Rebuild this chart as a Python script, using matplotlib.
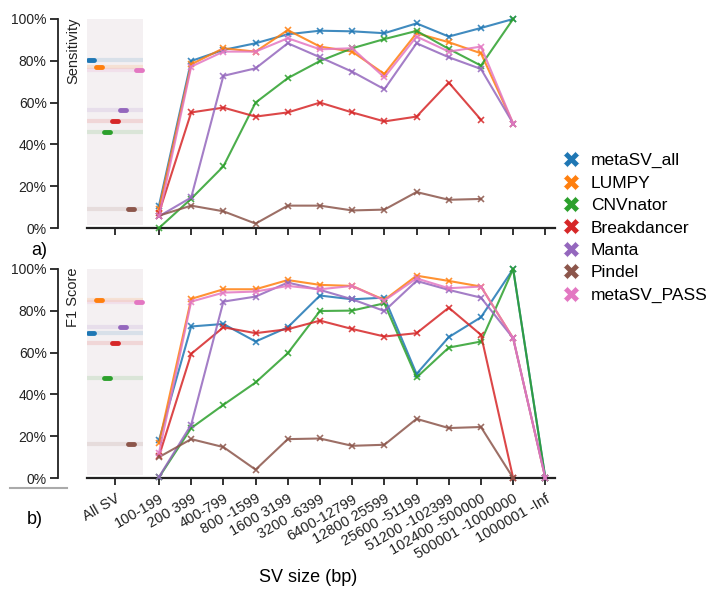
import numpy as np
import matplotlib
matplotlib.use("Agg")
import matplotlib.pyplot as plt
from matplotlib.lines import Line2D

plt.rcParams['font.family'] = ['Liberation Sans', 'DejaVu Sans']

nan = np.nan

# categories (first one is the "All SV" summary column)
size_cats = ["100-199", "200 399", "400-799", "800 -1599", "1600 3199", "3200 -6399",
             "6400-12799", "12800 25599", "25600 -51199", "51200 -102399",
             "102400 -500000", "500001 -1000000", "1000001 -Inf"]
all_label = "All SV"

names = ["metaSV_all", "LUMPY", "CNVnator", "Breakdancer", "Manta", "Pindel", "metaSV_PASS"]
colors = ["#1f77b4", "#ff7f0e", "#2ca02c", "#d62728", "#9467bd", "#8c564b", "#e377c2"]

# sensitivity (%), All SV column
sens_allsv = [80.3, 76.8, 45.7, 51.1, 56.5, 8.9, 75.5]
# sensitivity (%) per size bin
sens_metasv_all = [10.7, 79.9, 85.2, 88.4, 92.7, 94.4, 94.1, 93.2, 97.9, 91.6, 95.7, 100, nan]
sens_lumpy = [9.1, 78.3, 86.0, 84.4, 94.7, 86.8, 84.4, 73.7, 93.2, 88.9, 83.6, 50, nan]
sens_cnvnator = [0, 14.0, 29.5, 60.0, 71.7, 79.9, 86.0, 90.4, 94.3, 85.7, 77.7, 100, nan]
sens_breakdancer = [7.2, 55.3, 57.6, 53.3, 55.3, 60.0, 55.3, 51.0, 53.3, 69.6, 51.8, nan, nan]
sens_manta = [5.6, 14.6, 72.8, 76.4, 88.4, 81.7, 74.8, 66.4, 88.4, 81.7, 76.1, 50, nan]
sens_pindel = [5.9, 10.7, 8.0, 2.1, 10.7, 10.7, 8.4, 8.8, 17.2, 13.5, 13.9, nan, nan]
sens_metasv_pass = [5.6, 77.2, 84.4, 84.4, 90.8, 85.5, 86.0, 72.1, 91.6, 84.4, 86.8, 50, nan]

# F1 score (%), All SV column
f1_allsv = [69.6, 85.2, 47.8, 64.5, 72.3, 16.2, 84.1]
# F1 score (%) per size bin
f1_metasv_all = [18.0, 72.5, 73.7, 65.3, 72.1, 87.3, 85.5, 86.3, 49.8, 67.4, 76.9, 100, 0]
f1_lumpy = [16.7, 85.7, 90.3, 90.3, 94.7, 92.4, 91.9, 85.2, 96.8, 94.3, 91.6, 66.9, 0]
f1_cnvnator = [0.3, 23.9, 35.0, 45.7, 59.7, 79.9, 80.1, 83.6, 48.1, 62.4, 65.3, 100, 0]
f1_breakdancer = [10.4, 59.4, 72.1, 69.3, 71.2, 75.3, 71.3, 67.7, 69.3, 81.5, 68.5, 0, nan]
f1_manta = [0.5, 25.5, 84.4, 86.8, 93.5, 90.0, 85.5, 79.9, 94.3, 90.0, 86.3, 66.9, 0]
f1_pindel = [10.0, 18.6, 14.8, 4.0, 18.6, 18.9, 15.4, 15.9, 28.3, 23.9, 24.4, 0, nan]
f1_metasv_pass = [12.0, 84.4, 88.7, 89.2, 91.9, 90.3, 91.9, 84.9, 95.5, 90.8, 91.6, 66.9, 0]

sens_series = [sens_metasv_all, sens_lumpy, sens_cnvnator, sens_breakdancer,
               sens_manta, sens_pindel, sens_metasv_pass]
f1_series = [f1_metasv_all, f1_lumpy, f1_cnvnator, f1_breakdancer,
             f1_manta, f1_pindel, f1_metasv_pass]

W, H = 714, 592
fig = plt.figure(figsize=(W / 100, H / 100), dpi=100)

x = np.arange(len(size_cats))
x_all = -1.366
xlim = (-2.236, 12.30)
band = (-2.236, -0.497)


def panel(ax, allsv, series, ylabel, ylab_top, show_labels):
    ax.set_xlim(*xlim)
    ax.set_ylim(0, 100)
    for s in ["top", "right"]:
        ax.spines[s].set_visible(False)
    ax.spines["left"].set_position(("outward", 21))
    ax.spines["left"].set_linewidth(1.3)
    ax.spines["left"].set_color("#222222")
    ax.spines["bottom"].set_linewidth(1.6)
    ax.spines["bottom"].set_color("#222222")
    ax.set_yticks([0, 20, 40, 60, 80, 100])
    ax.set_yticklabels([f"{v}%" for v in [0, 20, 40, 60, 80, 100]])
    ax.tick_params(axis="y", direction="out", length=6, width=1.3, pad=2,
                   labelsize=10, colors="#222222")
    ax.tick_params(axis="x", direction="out", length=5, width=1.3, pad=5,
                   labelsize=10.5, colors="#222222")
    ax.set_xticks([x_all] + list(x))
    if show_labels:
        ax.set_xticklabels([all_label] + size_cats, rotation=30, ha="right",
                           rotation_mode="anchor")
    else:
        ax.set_xticklabels([])

    # All SV summary column
    ax.axvspan(band[0], band[1], ymin=0.015, ymax=1.0, color="#f4f0f2", zorder=0, lw=0)
    for i, (v, c) in enumerate(zip(allsv, colors)):
        off = (i - 3) * 0.248
        ax.plot(band, [v, v], color=c, alpha=0.13, lw=3, solid_capstyle="butt", zorder=1)
        ax.plot([x_all + off - 0.08, x_all + off + 0.08], [v, v], color=c, lw=3.5,
                solid_capstyle="round", zorder=2)

    for vals, c in zip(series, colors):
        ax.plot(x, vals, color=c, lw=1.5, alpha=0.85, marker="x", ms=5, mew=1.2,
                clip_on=False, zorder=3)

    fig.text(73 / W, 1 - ylab_top / H, ylabel, rotation=90, ha="center", va="top",
             fontsize=10.5, color="#222222")


ax1 = fig.add_axes([87 / W, 1 - 228 / H, 468 / W, 209 / H])
ax2 = fig.add_axes([87 / W, 1 - 478 / H, 468 / W, 209 / H])
panel(ax1, sens_allsv, sens_series, "Sensitivity", 18, False)
panel(ax2, f1_allsv, f1_series, "F1 Score", 268, True)

fig.text(39 / W, 1 - 250 / H, "a)", ha="center", va="center", fontsize=13)
fig.text(35 / W, 1 - 520 / H, "b)", ha="center", va="center", fontsize=13)
fig.text(308 / W, 1 - 577 / H, "SV size (bp)", ha="center", va="center", fontsize=13)
fig.add_artist(Line2D([10 / W, 67 / W], [1 - 488 / H] * 2, color="#aaaaaa", lw=1.5))

handles = [Line2D([], [], ls="none", marker="X", ms=11, color=c, mec="white", mew=0.5)
           for c in colors]
fig.legend(handles, names, loc="center left", bbox_to_anchor=(564 / W, 1 - 228 / H),
           frameon=False, fontsize=12.5, handlelength=0.8, handletextpad=0.75,
           labelspacing=0.42, borderpad=0, borderaxespad=0)

fig.savefig("out.png", dpi=100)
